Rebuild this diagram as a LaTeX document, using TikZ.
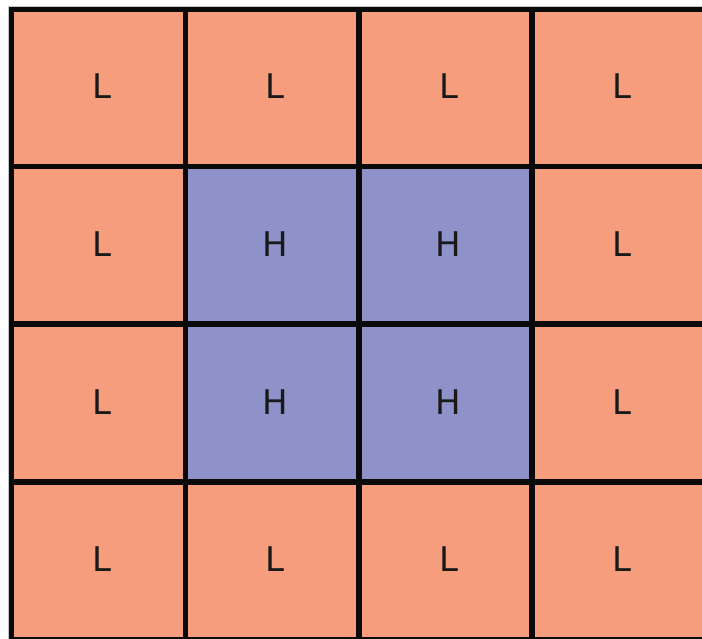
\documentclass[tikz,border=0pt]{standalone}
\usepackage{fontspec}
\setmainfont{DejaVu Sans}
\definecolor{lowc}{RGB}{245,157,125}
\definecolor{highc}{RGB}{142,146,200}
\definecolor{gridc}{RGB}{10,10,10}
\begin{document}
\begin{tikzpicture}[x=1pt,y=-1pt,
  lbl/.style={font=\fontsize{34}{34}\selectfont, anchor=base, inner sep=0pt, text=black!90},
  gridline/.style={draw=gridc, line width=5.8pt, line cap=rect},
  lowcell/.style={fill=lowc},
  highcell/.style={fill=highc}]
\useasboundingbox (0,0) rectangle (702,639);
\begin{scope}
\clip (0,0) rectangle (702,639);
% fills
\path[lowcell] (11.5,9.5) rectangle (705.5,639.5);
\path[highcell] (185.5,166.5) rectangle (532,482);
% faint outer edge
\draw[gray!45, line width=0.8pt] (8,639) -- (8,6) -- (702,6);
% grid lines
\foreach \x in {11.5,185.5,359,532,705.5}
  \draw[gridline] (\x,9.5) -- (\x,639.5);
\foreach \y in {9.5,166.5,324,482,639.5}
  \draw[gridline] (11.5,\y) -- (705.5,\y);
% labels
\foreach \r/\yb in {1/99,2/256.25,3/414,4/571.75}{
  \foreach \c/\xc in {1/101.5,2/275.25,3/448.5,4/621.75}{
    \pgfmathtruncatemacro{\inner}{(\r==2 || \r==3) && (\c==2 || \c==3) ? 1 : 0}
    \ifnum\inner=1
      \node[lbl] (h\r\c) at (\xc,\yb) {H};
    \else
      \node[lbl] (l\r\c) at (\xc,\yb) {L};
    \fi
  }
}
\end{scope}
\end{tikzpicture}
\end{document}
